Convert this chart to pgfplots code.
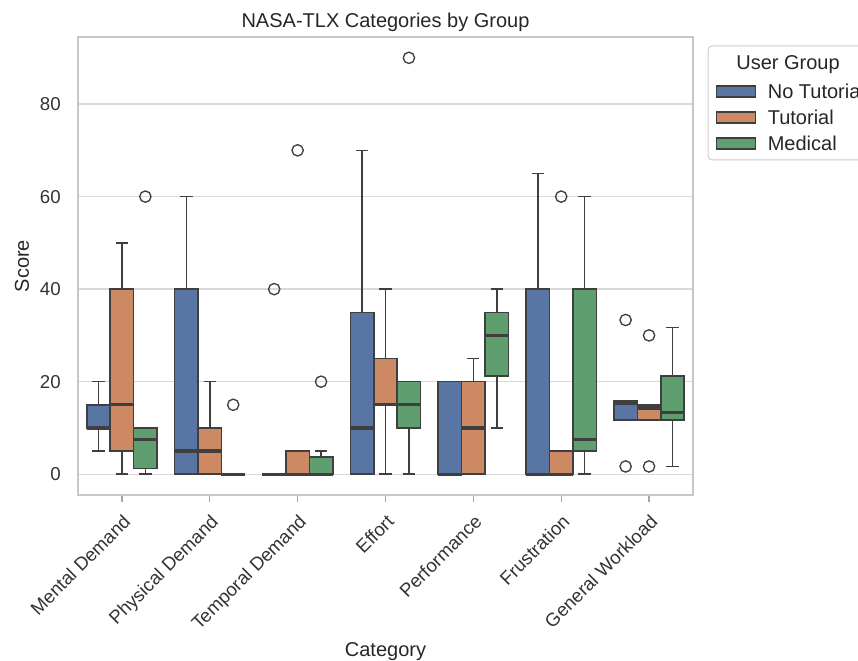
\documentclass[border=0pt]{standalone}
\usepackage{pgfplots}
\pgfplotsset{compat=1.18}
\usepgfplotslibrary{statistics}
\usepackage{fontspec}
\setmainfont{Liberation Sans}
\definecolor{ntc}{HTML}{5875A4}
\definecolor{tc}{HTML}{CC8963}
\definecolor{mc}{HTML}{5F9E6E}
\definecolor{edge}{HTML}{3F3F3F}
\pgfplotsset{
  bp/.style={draw=edge, line width=0.9pt, fill=#1, mark=o, mark size=3.4pt,
    mark options={draw=edge, solid, line width=0.8pt}},
}
\begin{document}
\begin{tikzpicture}
\begin{axis}[
  at={(46.8pt,99.6pt)}, anchor=south west,
  scale only axis, width=369pt, height=274.8pt,
  xmin=-0.5, xmax=6.5, ymin=-4.5, ymax=94.5,
  xtick={0,1,2,3,4,5,6},
  xticklabels={Mental Demand, Physical Demand, Temporal Demand, Effort, Performance, Frustration, General Workload},
  ytick={0,20,40,60,80},
  tick pos=left, tick align=outside,
  major tick length=4.2pt,
  xtick style={draw=black!35, line width=0.7pt},
  ytick style={draw=none},
  ymajorgrids,
  major grid style={draw=black!15, line width=0.8pt},
  axis line style={draw=black!22, line width=0.9pt},
  tick label style={font=\fontsize{11.2}{13}\selectfont, text=black!80},
  /pgf/number format/assume math mode=true,
  yticklabel style={anchor=east, inner sep=0pt, xshift=-6pt},
  xticklabel style={inner sep=0pt, xshift=0pt, yshift=-6.6pt, rotate=45, anchor=north east},
  title={NASA-TLX Categories by Group},
  title style={font=\fontsize{12}{14}\selectfont, text=black!85, at={(axis description cs:0.5,0.999)}, anchor=base},
  xlabel={Category}, ylabel={Score},
  label style={font=\fontsize{12}{14}\selectfont, text=black!85},
  xlabel style={at={(axis description cs:0.5,-0.3537)}, anchor=base},
  ylabel style={at={(axis description cs:-0.0911,0.5)}, anchor=center},
  boxplot/draw direction=y,
  boxplot/box extend=0.2667,
  boxplot/whisker extend=0.14,
  boxplot/every median/.style={draw=edge, line width=2pt},
  legend style={at={(axis description cs:1.029,0.9116)}, anchor=north west, draw=none, fill=none,
    font=\fontsize{12}{14}\selectfont, text=black!85, row sep=3pt,
    nodes={inner sep=2pt, text height=8.6pt, text depth=0pt},
    /tikz/every odd column/.append style={column sep=4.8pt}},
  legend cell align=left,
]
\addlegendimage{legend image code/.code={\draw[fill=ntc, draw=edge, line width=0.8pt] (0pt,-3.3pt) rectangle (23.4pt,3.3pt);}}
\addlegendentry{No Tutorial}
\addlegendimage{legend image code/.code={\draw[fill=tc, draw=edge, line width=0.8pt] (0pt,-3.3pt) rectangle (23.4pt,3.3pt);}}
\addlegendentry{Tutorial}
\addlegendimage{legend image code/.code={\draw[fill=mc, draw=edge, line width=0.8pt] (0pt,-3.3pt) rectangle (23.4pt,3.3pt);}}
\addlegendentry{Medical}

% Mental Demand
\addplot[bp=ntc, boxplot prepared={draw position=-0.2667, lower whisker=5, lower quartile=10, median=10, upper quartile=15, upper whisker=20}] coordinates {};
\addplot[bp=tc, boxplot prepared={draw position=0, lower whisker=0, lower quartile=5, median=15, upper quartile=40, upper whisker=50}] coordinates {};
\addplot[bp=mc, boxplot prepared={draw position=0.2667, lower whisker=0, lower quartile=1.25, median=7.5, upper quartile=10, upper whisker=10}] table[row sep=\\, y index=0] {y\\ 60\\};
% Physical Demand
\addplot[bp=ntc, boxplot prepared={draw position=0.7333, lower whisker=0, lower quartile=0, median=5, upper quartile=40, upper whisker=60}] coordinates {};
\addplot[bp=tc, boxplot prepared={draw position=1, lower whisker=0, lower quartile=0, median=5, upper quartile=10, upper whisker=20}] coordinates {};
\addplot[bp=mc, boxplot prepared={draw position=1.2667, lower whisker=0, lower quartile=0, median=0, upper quartile=0, upper whisker=0}] table[row sep=\\, y index=0] {y\\ 15\\};
% Temporal Demand
\addplot[bp=ntc, boxplot prepared={draw position=1.7333, lower whisker=0, lower quartile=0, median=0, upper quartile=0, upper whisker=0}] table[row sep=\\, y index=0] {y\\ 40\\};
\addplot[bp=tc, boxplot prepared={draw position=2, lower whisker=0, lower quartile=0, median=0, upper quartile=5, upper whisker=5}] table[row sep=\\, y index=0] {y\\ 70\\};
\addplot[bp=mc, boxplot prepared={draw position=2.2667, lower whisker=0, lower quartile=0, median=0, upper quartile=3.75, upper whisker=5}] table[row sep=\\, y index=0] {y\\ 20\\};
% Effort
\addplot[bp=ntc, boxplot prepared={draw position=2.7333, lower whisker=0, lower quartile=0, median=10, upper quartile=35, upper whisker=70}] coordinates {};
\addplot[bp=tc, boxplot prepared={draw position=3, lower whisker=0, lower quartile=15, median=15, upper quartile=25, upper whisker=40}] coordinates {};
\addplot[bp=mc, boxplot prepared={draw position=3.2667, lower whisker=0, lower quartile=10, median=15, upper quartile=20, upper whisker=20}] table[row sep=\\, y index=0] {y\\ 90\\};
% Performance
\addplot[bp=ntc, boxplot prepared={draw position=3.7333, lower whisker=0, lower quartile=0, median=0, upper quartile=20, upper whisker=20}] coordinates {};
\addplot[bp=tc, boxplot prepared={draw position=4, lower whisker=0, lower quartile=0, median=10, upper quartile=20, upper whisker=25}] coordinates {};
\addplot[bp=mc, boxplot prepared={draw position=4.2667, lower whisker=10, lower quartile=21.25, median=30, upper quartile=35, upper whisker=40}] coordinates {};
% Frustration
\addplot[bp=ntc, boxplot prepared={draw position=4.7333, lower whisker=0, lower quartile=0, median=0, upper quartile=40, upper whisker=65}] coordinates {};
\addplot[bp=tc, boxplot prepared={draw position=5, lower whisker=0, lower quartile=0, median=0, upper quartile=5, upper whisker=5}] table[row sep=\\, y index=0] {y\\ 60\\};
\addplot[bp=mc, boxplot prepared={draw position=5.2667, lower whisker=0, lower quartile=5, median=7.5, upper quartile=40, upper whisker=60}] coordinates {};
% General Workload
\addplot[bp=ntc, boxplot prepared={draw position=5.7333, lower whisker=11.67, lower quartile=11.67, median=15.33, upper quartile=15.83, upper whisker=15.83}] table[row sep=\\, y index=0] {y\\ 33.33\\ 1.67\\};
\addplot[bp=tc, boxplot prepared={draw position=6, lower whisker=11.67, lower quartile=11.67, median=14.33, upper quartile=15, upper whisker=15}] table[row sep=\\, y index=0] {y\\ 30\\ 1.67\\};
\addplot[bp=mc, boxplot prepared={draw position=6.2667, lower whisker=1.67, lower quartile=11.67, median=13.33, upper quartile=21.25, upper whisker=31.67}] coordinates {};
\end{axis}
\draw[black!20, line width=0.6pt, rounded corners=2.5pt] (424.8pt,300.6pt) rectangle (545pt,369pt);
\node[anchor=base, font=\fontsize{12}{14}\selectfont, text=black!85, inner sep=0pt] at (472.8pt,354.6pt) {User Group};
\pgfresetboundingbox
\useasboundingbox (0,0) rectangle (514.8pt,396.6pt);
\end{tikzpicture}
\end{document}
